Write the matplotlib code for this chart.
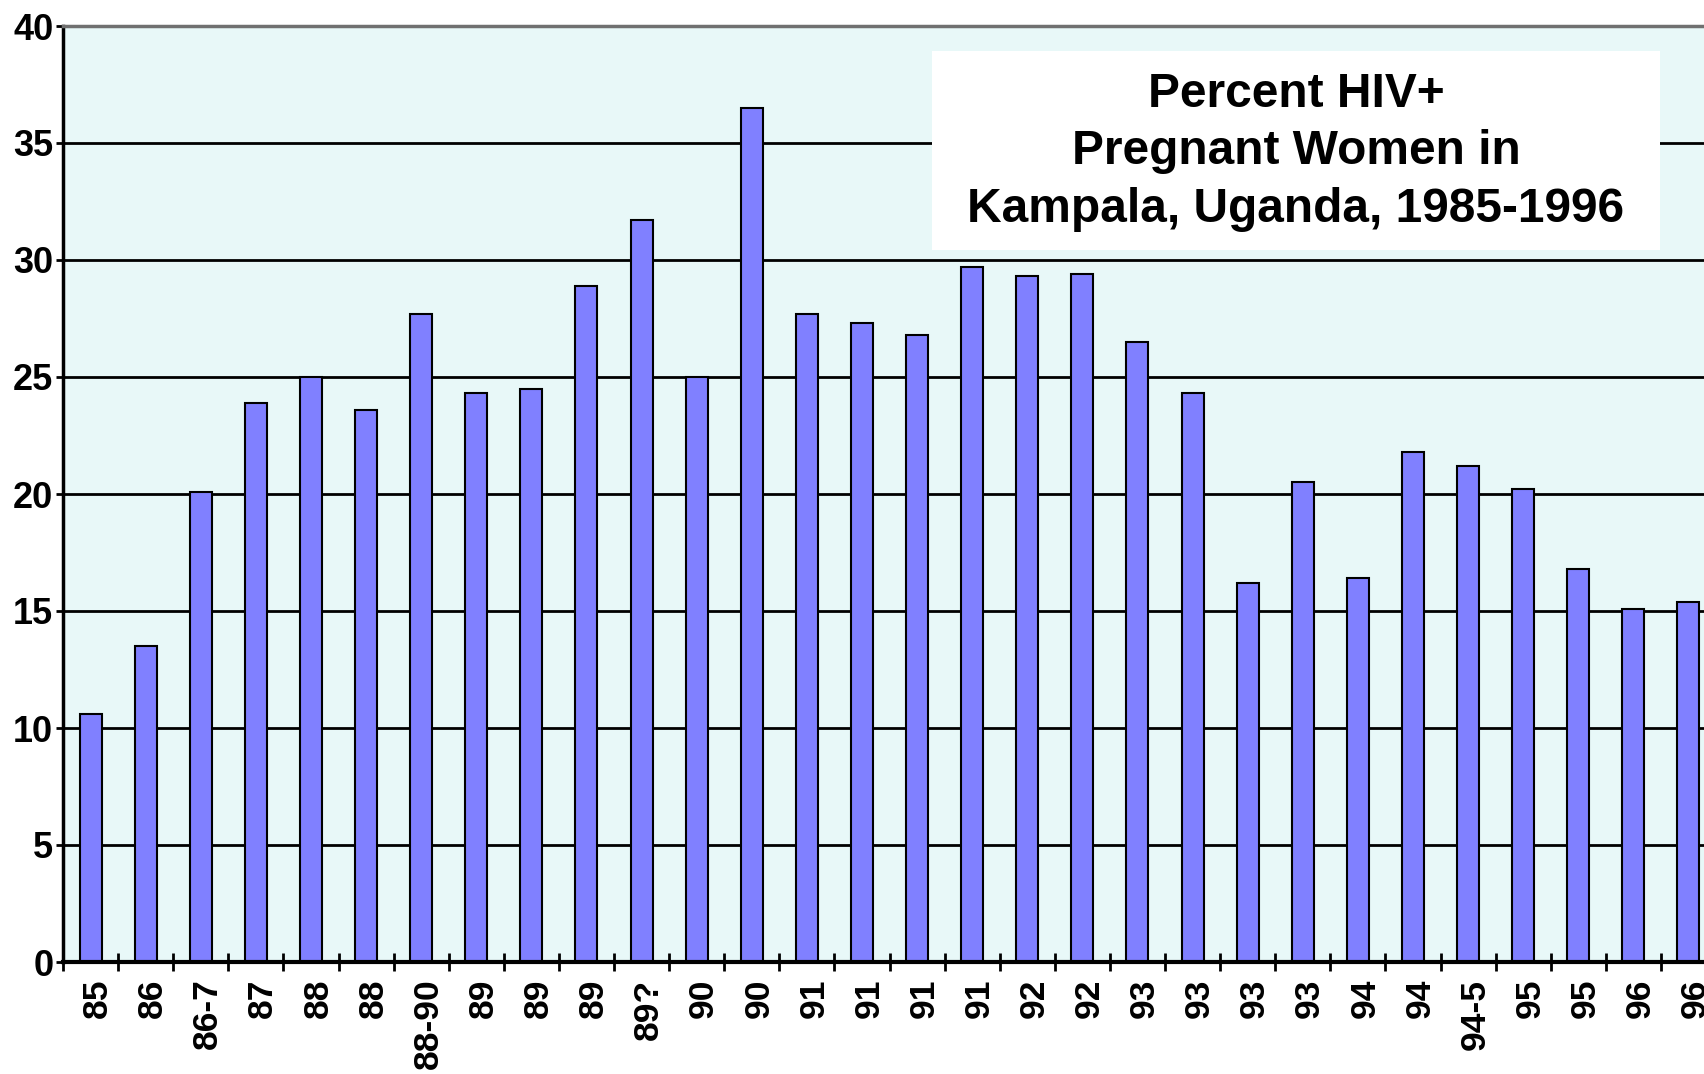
import matplotlib
matplotlib.use("Agg")
import matplotlib.pyplot as plt
import matplotlib.transforms as mtransforms
from matplotlib.patches import Rectangle
import numpy as np

# survey labels (year of survey) and percent HIV+
labels = ["85", "86", "86-7", "87", "88", "88", "88-90", "89", "89", "89",
          "89?", "90", "90", "91", "91", "91", "91", "92", "92", "93",
          "93", "93", "93", "94", "94", "94-5", "95", "95", "96", "96"]
percent = [10.6, 13.5, 20.1, 23.9, 25.0, 23.6, 27.7, 24.3, 24.5, 28.9,
           31.7, 25.0, 36.5, 27.7, 27.3, 26.8, 29.7, 29.3, 29.4, 26.5,
           24.3, 16.2, 20.5, 16.4, 21.8, 21.2, 20.2, 16.8, 15.1, 15.4]
yticks = [0, 5, 10, 15, 20, 25, 30, 35, 40]

plt.rcParams['font.family'] = ['Liberation Sans', 'DejaVu Sans']

fig = plt.figure(figsize=(17.04, 10.74), dpi=100)
W, H = 1704, 1074
left, bottom, top, right = 63, 962, 26, 1716
ax = fig.add_axes([left / W, 1 - bottom / H, (right - left) / W, (bottom - top) / H])
ax.set_facecolor('#E8F8F8')

x = np.arange(len(percent))
ax.bar(x, percent, width=0.4, color='#8080FF', edgecolor='black', linewidth=1.5, zorder=2)

ax.set_xlim(-0.5, len(percent) - 0.5)
ax.set_ylim(0, 40)
ax.set_yticks(yticks)
ax.set_yticklabels([str(v) for v in yticks], fontsize=26, fontweight='bold')
ax.yaxis.grid(True, color='black', linewidth=2, zorder=0)
ax.set_axisbelow(True)

# category ticks sit between bars, labels at bar centres
ax.set_xticks(np.arange(len(percent)) - 0.5)
ax.set_xticklabels([])
ax.set_xticks(x, minor=True)
ax.set_xticklabels(labels, minor=True, rotation=90, fontsize=25.5, fontweight='bold')
ax.tick_params(axis='x', which='major', direction='inout', length=13, width=2)
ax.tick_params(axis='x', which='minor', length=0, pad=12)
ax.tick_params(axis='y', direction='out', length=5, width=2, pad=2)

# labels in the original sit a little right of the bar centre
shift = mtransforms.ScaledTranslation(0.07, 0, fig.dpi_scale_trans)
for lab in ax.get_xticklabels(minor=True):
    lab.set_transform(lab.get_transform() + shift)

ax.spines['left'].set_linewidth(2.5)
ax.spines['bottom'].set_linewidth(3)
ax.spines['top'].set_color('#707070')
ax.spines['top'].set_linewidth(2.5)
ax.spines['right'].set_visible(False)

# title box
ax.add_patch(Rectangle((932 / W, 1 - 250 / H), 728 / W, 199 / H,
                       transform=fig.transFigure, facecolor='white',
                       edgecolor='none', zorder=3))
fig.text(1296 / W, 1 - 152 / H, "Percent HIV+\nPregnant Women in\nKampala, Uganda, 1985-1996",
         ha='center', va='center', fontsize=34.5, fontweight='bold',
         linespacing=1.35, zorder=4)

fig.savefig("out.png", dpi=100)
